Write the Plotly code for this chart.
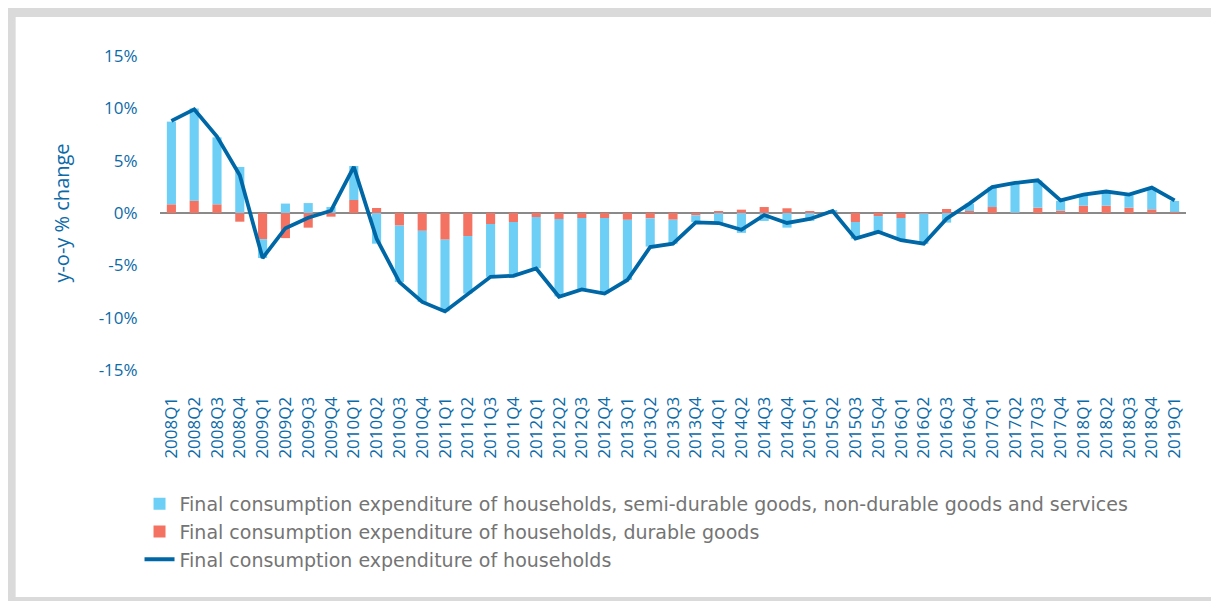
import plotly.graph_objects as go

quarters = [f"{y}Q{q}" for y in range(2008, 2019) for q in range(1, 5)] + ["2019Q1"]

durable = [0.83, 1.18, 0.83, -0.83, -2.5, -2.4, -1.4, -0.35, 1.24, 0.48,
           -1.2, -1.7, -2.55, -2.2, -1.05, -0.86, -0.38, -0.57, -0.48, -0.48,
           -0.65, -0.51, -0.64, -0.22, 0.13, 0.32, 0.57, 0.45, 0.19, 0.15,
           -0.86, -0.29, -0.48, -0.05, 0.38, 0.19, 0.57, 0.03, 0.51, 0.22,
           0.7, 0.7, 0.51, 0.35, 0.1]

semi_nondurable = [7.9, 8.8, 6.4, 4.4, -1.8, 0.9, 0.95, 0.57, 3.25, -2.93,
                   -5.4, -6.8, -6.85, -5.5, -5.05, -5.1, -4.9, -7.4, -6.8, -7.2,
                   -5.75, -2.7, -2.3, -0.65, -1.0, -1.9, -0.76, -1.4, -0.76, 0.05,
                   -1.6, -1.5, -2.1, -2.9, -0.92, 0.7, 1.9, 2.84, 2.6, 0.93,
                   1.0, 1.3, 1.18, 2.07, 1.05]

total = [8.8, 9.9, 7.3, 3.6, -4.3, -1.45, -0.45, 0.22, 4.4, -2.45,
         -6.6, -8.5, -9.4, -7.7, -6.1, -6.0, -5.3, -8.0, -7.3, -7.7,
         -6.4, -3.25, -2.93, -0.9, -0.96, -1.6, -0.19, -0.95, -0.57, 0.19,
         -2.45, -1.8, -2.6, -2.93, -0.54, 0.9, 2.48, 2.87, 3.12, 1.2,
         1.75, 2.05, 1.75, 2.42, 1.2]

y_tick_values = [-15, -10, -5, 0, 5, 10, 15]
y_tick_labels = ["-15%", "-10%", "-5%", "0%", "5%", "10%", "15%"]

names = [
    "Final consumption expenditure of households, semi-durable goods, non-durable goods and services",
    "Final consumption expenditure of households, durable goods",
    "Final consumption expenditure of households",
]

BLUE_LIGHT = "#6dcff6"
RED = "#f47262"
LINE = "#0067a6"
TICK = "#0b6aa8"
GREY_TXT = "#747474"

fig = go.Figure()
fig.add_trace(go.Bar(x=quarters, y=durable, name=names[1], marker_color=RED,
                     marker_line_width=0, legendrank=2, legendgroup="b"))
fig.add_trace(go.Bar(x=quarters, y=semi_nondurable, name=names[0], marker_color=BLUE_LIGHT,
                     marker_line_width=0, legendrank=1, legendgroup="a"))
fig.add_trace(go.Scatter(x=quarters, y=total, name=names[2], mode="lines",
                         line=dict(color=LINE, width=3.8), legendrank=3, legendgroup="c"))

# page offset (browser body margin)
OFF = 8
W, H = 1219 - OFF, 601 - OFF
L, R, T, B = 159.5 - OFF, 1186.5 - OFF, 56 - OFF, 370 - OFF
pw, ph = R - L, B - T

def px(x):  # page pixel -> paper x
    return (x - OFF - L) / pw

def py(y):  # page pixel -> paper y
    return (B - (y - OFF)) / ph

frame_col = "#dadada"
shapes = []
for (x0, y0, x1, y1) in [(5, 7, 1219, 17), (5, 7, 15, 601), (1217, 7, 1219, 601), (5, 597, 1219, 601)]:
    shapes.append(dict(type="rect", xref="paper", yref="paper",
                       x0=px(x0), x1=px(x1), y0=py(y1), y1=py(y0),
                       fillcolor=frame_col, line_width=0, layer="below"))

fig.update_layout(
    width=W, height=H,
    margin=dict(l=L, r=W - R, t=T, b=H - B, autoexpand=False),
    paper_bgcolor="white",
    plot_bgcolor="rgba(0,0,0,0)",
    barmode="relative",
    bargap=0.6,
    font=dict(family="Open Sans", color=TICK),
    shapes=shapes,
    showlegend=True,
    legend=dict(
        x=px(139), y=py(485), xanchor="left", yanchor="top",
        font=dict(family="DejaVu Sans", size=19, color=GREY_TXT),
        traceorder="normal", tracegroupgap=2, itemwidth=30,
        bgcolor="rgba(0,0,0,0)",
    ),
    xaxis=dict(
        type="category", tickangle=-90, showgrid=False, showline=False,
        ticks="outside", ticklen=19, tickcolor="rgba(0,0,0,0)",
        tickfont=dict(family="Open Sans", size=17, color=TICK),
        zeroline=False,
    ),
    yaxis=dict(
        range=[-15, 15], tickmode="array", tickvals=y_tick_values, ticktext=y_tick_labels,
        showgrid=False,
        zeroline=True, zerolinecolor="#8a8a8a", zerolinewidth=1.6,
        showline=False, ticks="outside", ticklen=18, tickcolor="rgba(0,0,0,0)",
        tickfont=dict(family="Open Sans", size=17, color=TICK),
        title=dict(text="y-o-y % change", standoff=23,
                   font=dict(family="Open Sans", size=20, color=TICK)),
    ),
)

fig.write_html("out.html")
